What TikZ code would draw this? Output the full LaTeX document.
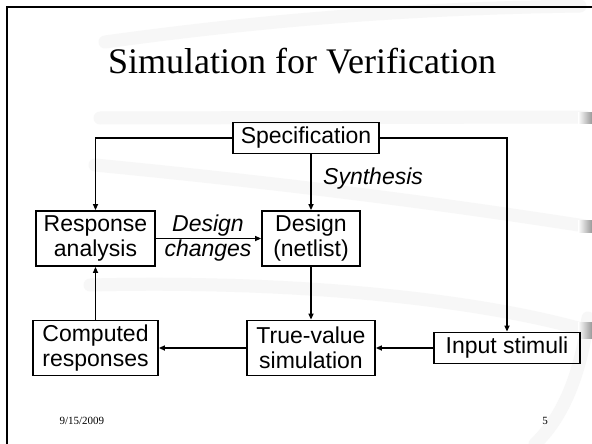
\documentclass[tikz,border=0pt]{standalone}
\usepackage{fontspec}
\setmainfont{Liberation Serif}
\newfontfamily\boxfont{Liberation Sans}
\usetikzlibrary{arrows.meta}
\tikzset{
  block/.style={draw, line width=1.8pt, inner sep=0pt, align=center,
    font=\boxfont\fontsize{23}{25}\selectfont},
  flow/.style={line width=1.5pt, -{Triangle[length=6pt,width=5pt]}},
  note/.style={inner sep=0pt, align=center,
    font=\boxfont\itshape\fontsize{23}{25}\selectfont},
  swoosh/.style={line width=13pt, color=black!3, line cap=round},
  swooshcap/.style={left color=white, right color=black!40},
  footer/.style={font=\fontsize{11}{13}\selectfont},
}
\begin{document}
\begin{tikzpicture}[x=1pt,y=-1pt]
  % page
  \useasboundingbox[fill=white] (0,0) rectangle (592,444);

  % faint background swooshes of the slide template
  \draw[swoosh] (105,42) .. controls (300,15) and (450,8) .. (580,6);
  \draw[swoosh] (100,118) -- (585,117);
  \draw[swoosh] (95,165) .. controls (300,185) and (450,205) .. (585,226);
  \draw[swoosh] (90,285) .. controls (300,280) and (480,300) .. (585,330);
  \draw[swoosh] (588,318) .. controls (580,380) and (560,420) .. (535,444);
  \shade[swooshcap] (578,112) rectangle (592,123);
  \shade[swooshcap] (578,220) rectangle (592,232);
  \shade[swooshcap] (578,322) rectangle (592,338);

  % slide frame
  \draw[line width=2.6pt] (7,444) -- (7,7) -- (592,7);

  % title
  \node[font=\fontsize{36}{40}\selectfont, anchor=base] (title) at (302,74)
    {Simulation for Verification};

  % blocks
  \node[block, minimum width=146pt, minimum height=31pt] (spec) at (306,138) {Specification};
  \node[block, minimum width=119pt, minimum height=55pt] (resp) at (95.5,238.5) {Response\\analysis};
  \node[block, minimum width=98pt, minimum height=55pt] (design) at (311,238.5) {Design\\(netlist)};
  \node[block, minimum width=125pt, minimum height=55pt] (comp) at (95.5,348) {Computed\\responses};
  \node[block, minimum width=128pt, minimum height=55pt] (truev) at (311,348) {True-value\\simulation};
  \node[block, minimum width=146pt, minimum height=31pt] (input) at (507,348) {Input stimuli};

  % edge labels
  \node[note, anchor=west] (synth) at (323,179) {Synthesis};
  \node[note] (chg) at (208,238) {Design\\changes};

  % connectors
  \draw[flow] (spec.west) -| (resp.north);
  \draw[flow] (spec.east) -| (input.north);
  \draw[flow] (design.north |- spec.south) -- (design.north);
  \draw[flow] (resp.east) -- (design.west);
  \draw[flow] (design.south) -- (truev.north);
  \draw[flow] (input.west) -- (truev.east);
  \draw[flow] (truev.west) -- (comp.east);
  \draw[flow] (comp.north) -- (resp.south);

  % footer
  \node[footer, anchor=base west] (date) at (56,424) {9/15/2009};
  \node[footer, anchor=base] (page) at (545,424) {5};
\end{tikzpicture}
\end{document}
